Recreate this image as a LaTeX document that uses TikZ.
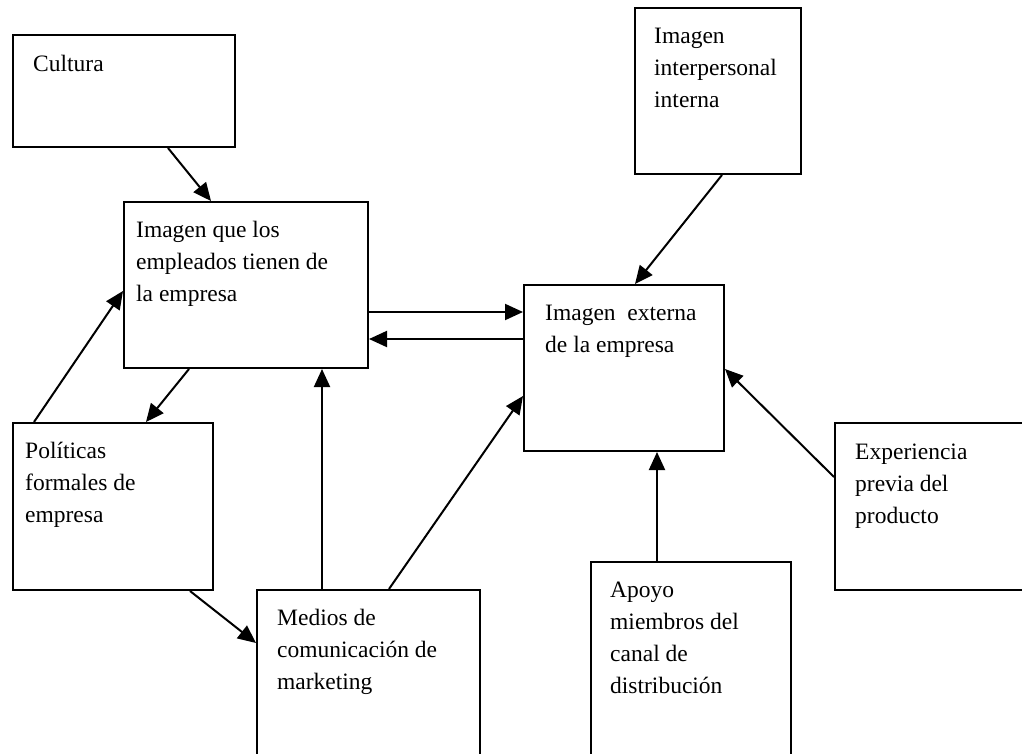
\documentclass[tikz,border=0pt]{standalone}
\usepackage{fontspec}
\setmainfont{Liberation Serif}
\usetikzlibrary{arrows.meta}

\tikzset{
	box/.style={draw,line width=2pt,anchor=north west,inner sep=0pt,shape=rectangle},
	txt/.style={anchor=north west,align=left,inner sep=0pt,font=\fontsize{23.5}{32}\selectfont},
	arr/.style={line width=2pt,-{Triangle[length=18pt,width=16pt]}},
}

\begin{document}
\begin{tikzpicture}[x=1pt,y=-1pt]
			\useasboundingbox (0,0) rectangle (1022,754);
			\clip (0,0) rectangle (1022,754);
			%
			\node[box,minimum width=222pt,minimum height=112pt] (cultura) at (12,34) {};
			\node[box,minimum width=244pt,minimum height=166pt] (empleados) at (123,201) {};
			\node[box,minimum width=200pt,minimum height=166pt] (externa) at (523,284) {};
			\node[box,minimum width=166pt,minimum height=166pt] (interna) at (634,7) {};
			\node[box,minimum width=200pt,minimum height=167pt] (politicas) at (12,422) {};
			\node[box,minimum width=223pt,minimum height=200pt] (medios) at (256,589) {};
			\node[box,minimum width=200pt,minimum height=220pt] (apoyo) at (590,561) {};
			\node[box,minimum width=220pt,minimum height=167pt] (experiencia) at (834,422) {};
			%
			\node[txt] (cultura-t) at ([shift={(21,14.6)}]cultura.north west) {\strut Cultura};
			\node[txt] (empleados-t) at ([shift={(13,13.6)}]empleados.north west) {\strut Imagen que los\\empleados tienen de\\la empresa};
			\node[txt] (externa-t) at ([shift={(22,13.6)}]externa.north west) {\strut Imagen\ \ externa\\de la empresa};
			\node[txt] (interna-t) at ([shift={(20,13.6)}]interna.north west) {\strut Imagen\\interpersonal\\interna};
			\node[txt] (politicas-t) at ([shift={(13,13.6)}]politicas.north west) {\strut Políticas\\formales de\\empresa};
			\node[txt] (medios-t) at ([shift={(21,13.6)}]medios.north west) {\strut Medios de\\comunicación de\\marketing};
			\node[txt] (apoyo-t) at ([shift={(20,13.6)}]apoyo.north west) {\strut Apoyo\\miembros del\\canal de\\distribución};
			\node[txt] (experiencia-t) at ([shift={(21,14.6)}]experiencia.north west) {\strut Experiencia\\previa del\\producto};
			%
			\draw[arr] ([shift={(156,0)}]cultura.south west) -- ([shift={(88,0)}]empleados.north west);
			\draw[arr] ([shift={(0,111)}]empleados.north east) -- ([shift={(0,28)}]externa.north west);
			\draw[arr] ([shift={(0,55)}]externa.north west) -- ([shift={(0,138)}]empleados.north east);
			\draw[arr] ([shift={(88,0)}]interna.south west) -- ([shift={(112,0)}]externa.north west);
			\draw[arr] ([shift={(0,55)}]experiencia.north west) -- ([shift={(0,85)}]externa.north east);
			\draw[arr] ([shift={(67,0)}]apoyo.north west) -- ([shift={(134,0)}]externa.south west);
			\draw[arr] ([shift={(66,0)}]medios.north west) -- ([shift={(199,0)}]empleados.south west);
			\draw[arr] ([shift={(133,0)}]medios.north west) -- ([shift={(0,112)}]externa.north west);
			\draw[arr] ([shift={(178,0)}]politicas.south west) -- ([shift={(0,54)}]medios.north west);
			\draw[arr] ([shift={(22,0)}]politicas.north west) -- ([shift={(0,90)}]empleados.north west);
			\draw[arr] ([shift={(66,0)}]empleados.south west) -- ([shift={(134,0)}]politicas.north west);
			%
		\end{tikzpicture}
\end{document}
